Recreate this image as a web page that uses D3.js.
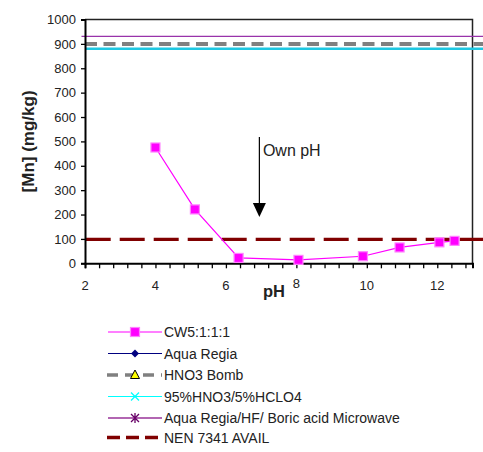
<!DOCTYPE html>
<html><head><meta charset="utf-8">
<script src="https://cdn.jsdelivr.net/npm/d3@7"></script>
<style>body{margin:0;background:#fff}svg{font-family:"Liberation Sans",Arial,sans-serif}</style>
</head><body>
<svg id="c" width="483" height="452"></svg>
<script>
// Data
const cwPH = [4.0, 5.12, 6.36, 8.06, 9.89, 10.93, 12.06, 12.49];
const cwMn = [475, 221, 22, 14, 29, 65, 86, 92];
const refNames = ["HNO3 Bomb", "95%HNO3/5%HCLO4", "Aqua Regia/HF/ Boric acid Microwave", "NEN 7341 AVAIL"];
const refValues = [900, 880, 931, 98];
const refStart = [2, 2, 1.9, 2.02];
const refEnd = 13.35;
const xTicks = [2, 4, 6, 8, 10, 12];
const yTicks = [0, 100, 200, 300, 400, 500, 600, 700, 800, 900, 1000];
const legendNames = ["CW5:1:1:1", "Aqua Regia", "HNO3 Bomb", "95%HNO3/5%HCLO4", "Aqua Regia/HF/ Boric acid Microwave", "NEN 7341 AVAIL"];
const arrowPH = 6.95, arrowFrom = 518, arrowTo = 190;

const svg = d3.select("#c");
const L = 85, R = 472.5, T = 19.5, B = 263.3;
const x = d3.scaleLinear().domain([2, 13]).range([L, R]);
const y = d3.scaleLinear().domain([0, 1000]).range([B, T]);

// plot border (top/right)
svg.append("path").attr("d", `M${L},${T}H${R}V${B}`).attr("fill", "none").attr("stroke", "#222").attr("stroke-width", 1.5);

// reference lines
const refStyles = [
  {c: "#808080", w: 4, d: "12,6.5"},
  {c: "#1ec8e2", w: 2.6, d: null},
  {c: "#9933aa", w: 1.2, d: null},
  {c: "#800000", w: 3.3, d: "25,9"}
];
refValues.forEach((v, i) => {
  const s = refStyles[i];
  const ln = svg.append("line").attr("x1", x(refStart[i])).attr("x2", x(refEnd))
    .attr("y1", y(v)).attr("y2", y(v)).attr("stroke", s.c).attr("stroke-width", s.w);
  if (s.d) ln.attr("stroke-dasharray", s.d);
});

// axes
const yAxis = d3.axisLeft(y).tickValues(yTicks).tickSize(4).tickPadding(5).tickFormat(d3.format("d"));
const gy = svg.append("g").attr("transform", `translate(${L},0)`).call(yAxis);
gy.select(".domain").attr("stroke", "#000").attr("stroke-width", 2);
gy.selectAll(".tick line").attr("stroke", "#000").attr("stroke-width", 1.3);
gy.selectAll("text").attr("font-size", 13).attr("fill", "#222").attr("font-family", "Liberation Sans, Arial");

const minor = d3.range(2, 13.001, 0.4);
const xAxis = d3.axisBottom(x).tickValues(minor).tickSize(5).tickFormat("");
const gx = svg.append("g").attr("transform", `translate(0,${B})`).call(xAxis);
gx.select(".domain").attr("stroke", "#000").attr("stroke-width", 2);
gx.selectAll(".tick line").attr("stroke", "#000").attr("stroke-width", 1.3);
svg.append("g").selectAll("text").data(xTicks).join("text")
  .attr("x", d => x(d)).attr("y", d => d === 8 ? 288 : 290).attr("text-anchor", "middle")
  .attr("font-size", 13).attr("fill", "#222").text(d => d);

// axis titles
svg.append("text").attr("x", 274).attr("y", 296.5).attr("text-anchor", "middle")
  .attr("font-size", 16.5).attr("font-weight", "bold").attr("fill", "#222").text("pH");
svg.append("text").attr("transform", `translate(33.5,${(T + B) / 2}) rotate(-90)`).attr("text-anchor", "middle")
  .attr("font-size", 17).attr("font-weight", "bold").attr("fill", "#222").text("[Mn] (mg/kg)");

// CW5 series
const pts = cwPH.map((p, i) => [p, cwMn[i]]);
svg.append("path").datum(pts).attr("fill", "none").attr("stroke", "#ff00ff").attr("stroke-width", 1.2)
  .attr("d", d3.line().x(d => x(d[0])).y(d => y(d[1])));
svg.append("g").selectAll("rect").data(pts).join("rect")
  .attr("x", d => x(d[0]) - 4.5).attr("y", d => y(d[1]) - 4.5).attr("width", 9).attr("height", 9)
  .attr("fill", "#ff00ff").attr("stroke", "#ff80ff").attr("stroke-width", 1.2);

// arrow annotation
const ax = x(arrowPH);
svg.append("line").attr("x1", ax).attr("x2", ax).attr("y1", y(arrowFrom)).attr("y2", y(arrowTo + 10)).attr("stroke", "#000").attr("stroke-width", 1.2);
svg.append("path").attr("d", `M${ax - 6.5},${y(arrowTo + 57)}L${ax + 6.5},${y(arrowTo + 57)}L${ax},${y(arrowTo)}Z`).attr("fill", "#000");
svg.append("text").attr("x", ax + 3.5).attr("y", 155.5).attr("font-size", 16).attr("fill", "#222").text("Own pH");

// legend
const lx1 = 108, lx2 = 162, lm = 135, lt = 164;
const ly = [332, 353.5, 375, 396.5, 418, 437.5];
const leg = svg.append("g");
legendNames.forEach((n, i) => {
  const yy = ly[i];
  const line = leg.append("line").attr("x1", lx1).attr("x2", lx2).attr("y1", yy).attr("y2", yy);
  if (i === 0) line.attr("stroke", "#ff00ff").attr("stroke-width", 1.2);
  if (i === 1) line.attr("stroke", "#000080").attr("stroke-width", 1.2);
  if (i === 2) line.attr("stroke", "#808080").attr("stroke-width", 3.5).attr("stroke-dasharray", "11,7").attr("x1", lx1 - 1);
  if (i === 3) line.attr("stroke", "#00ffff").attr("stroke-width", 1.2);
  if (i === 4) line.attr("stroke", "#993399").attr("stroke-width", 1.5);
  if (i === 5) line.attr("stroke", "#800000").attr("stroke-width", 3.3).attr("stroke-dasharray", "13,6").attr("x1", lx1 - 1);
  if (i === 0) leg.append("rect").attr("x", lm - 4.5).attr("y", yy - 4.5).attr("width", 9).attr("height", 9)
      .attr("fill", "#ff00ff").attr("stroke", "#ff80ff").attr("stroke-width", 1.2);
  if (i === 1) leg.append("path").attr("d", `M${lm},${yy - 4}L${lm + 4},${yy}L${lm},${yy + 4}L${lm - 4},${yy}Z`).attr("fill", "#000080");
  if (i === 2) leg.append("path").attr("d", `M${lm},${yy - 5}L${lm + 4.5},${yy + 3.5}L${lm - 4.5},${yy + 3.5}Z`).attr("fill", "#ffff00").attr("stroke", "#000").attr("stroke-width", 1);
  if (i === 3) leg.append("path").attr("d", `M${lm - 4},${yy - 4}L${lm + 4},${yy + 4}M${lm + 4},${yy - 4}L${lm - 4},${yy + 4}`).attr("stroke", "#00ffff").attr("stroke-width", 1.3);
  if (i === 4) leg.append("path").attr("d", `M${lm - 4},${yy - 4}L${lm + 4},${yy + 4}M${lm + 4},${yy - 4}L${lm - 4},${yy + 4}M${lm},${yy - 5}L${lm},${yy + 5}`).attr("stroke", "#660066").attr("stroke-width", 1.3);
  leg.append("text").attr("x", lt).attr("y", yy + 5).attr("font-size", 14).attr("fill", "#222").text(n);
});
</script>
</body></html>
